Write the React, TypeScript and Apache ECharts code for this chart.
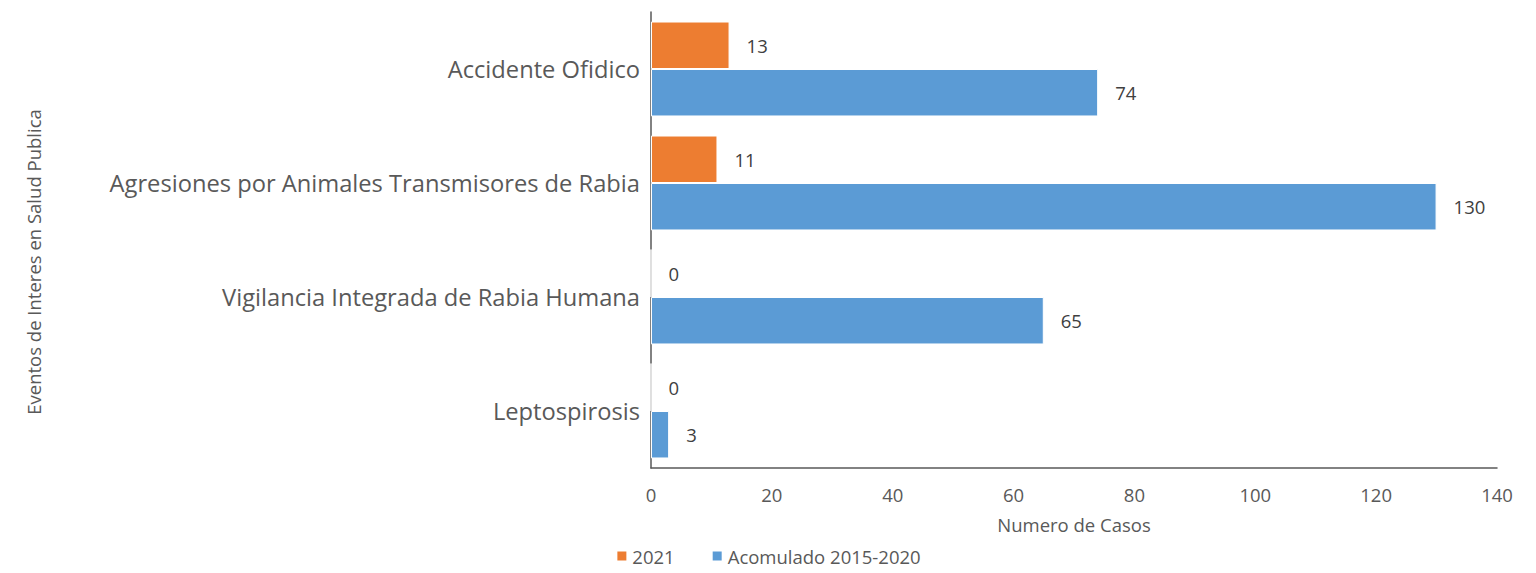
import React, { useEffect, useRef } from "react";
import * as echarts from "echarts";

const categories = [
  "Accidente Ofidico",
  "Agresiones por Animales Transmisores de Rabia",
  "Vigilancia Integrada de Rabia Humana",
  "Leptospirosis",
];
const series2021 = [13, 11, 0, 0];
const seriesAcum = [74, 130, 65, 3];
const seriesNames = ["2021", "Acomulado 2015-2020"];
const xTicks = { min: 0, max: 140, interval: 20 };
const xAxisTitle = "Numero de Casos";
const yAxisTitle = "Eventos de Interes en Salud Publica";

const FONT = "'Open Sans', 'Liberation Sans', sans-serif";
const SMALL = 18.5;

export default function App() {
  const ref = useRef<HTMLDivElement>(null);
  useEffect(() => {
    const chart = echarts.init(ref.current!, null, { renderer: "svg" });
    chart.setOption({
      animation: false,
      textStyle: { fontFamily: FONT },
      grid: { left: 651, right: 39, top: 12, bottom: 105, containLabel: false },
      legend: {
        top: 545,
        left: "center",
        padding: 0,
        itemWidth: 11,
        itemHeight: 11,
        itemGap: 36,
        icon: "rect",
        textStyle: { fontFamily: FONT, fontSize: SMALL, color: "#595959", lineHeight: 22 },
        data: seriesNames,
      },
      graphic: [
        {
          type: "text",
          x: 33,
          y: 262,
          rotation: Math.PI / 2,
          style: {
            text: yAxisTitle,
            fontFamily: FONT,
            fontSize: SMALL,
            fill: "#595959",
            align: "center",
            verticalAlign: "middle",
          },
        },
      ],
      xAxis: {
        type: "value",
        min: xTicks.min,
        max: xTicks.max,
        interval: xTicks.interval,
        name: xAxisTitle,
        nameLocation: "middle",
        nameGap: 47,
        nameTextStyle: { fontFamily: FONT, fontSize: SMALL, color: "#595959" },
        splitLine: { show: false },
        axisLine: { show: true, lineStyle: { color: "#595959", width: 1.5 } },
        axisTick: { show: false },
        axisLabel: { fontFamily: FONT, fontSize: SMALL, color: "#595959", margin: 17 },
      },
      yAxis: {
        type: "category",
        inverse: true,
        data: categories,
        axisLine: { show: true, lineStyle: { color: "#595959", width: 1.5 } },
        axisTick: { show: false },
        axisLabel: { fontFamily: FONT, fontSize: 23.7, color: "#595959", margin: 11 },
      },
      series: [
        {
          name: seriesNames[0],
          type: "bar",
          data: series2021,
          barGap: "0%",
          barCategoryGap: "16.7%",
          itemStyle: { color: "#ED7D31", borderColor: "#fff", borderWidth: 1 },
          label: {
            show: true,
            position: "right",
            distance: 17,
            fontFamily: FONT,
            fontSize: SMALL,
            color: "#404040",
          },
        },
        {
          name: seriesNames[1],
          type: "bar",
          data: seriesAcum,
          barGap: "0%",
          barCategoryGap: "16.7%",
          itemStyle: { color: "#5B9BD5", borderColor: "#fff", borderWidth: 1 },
          label: {
            show: true,
            position: "right",
            distance: 17,
            fontFamily: FONT,
            fontSize: SMALL,
            color: "#404040",
          },
        },
      ],
    });
    return () => chart.dispose();
  }, []);
  return (
    <div
      ref={ref}
      style={{ width: 1536, height: 573, marginTop: -8, marginLeft: -8, marginRight: -8, marginBottom: 0 }}
    />
  );
}
